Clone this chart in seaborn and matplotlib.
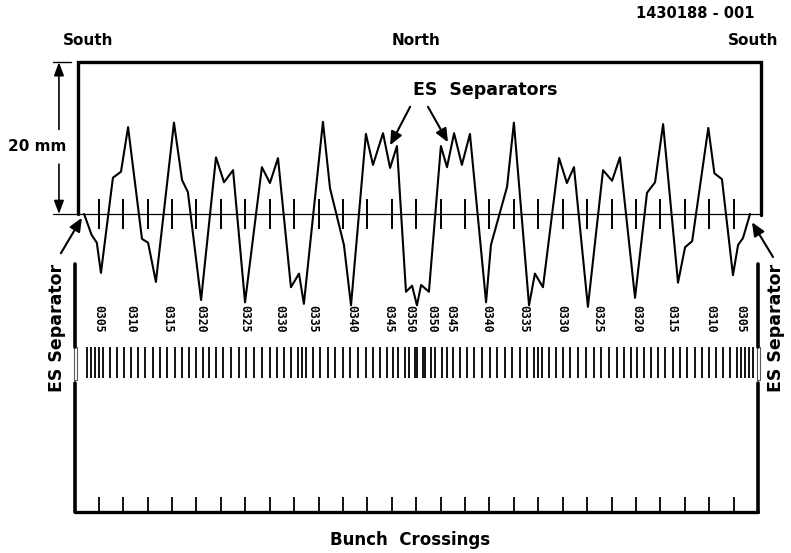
import numpy as np
import pandas as pd
import matplotlib
matplotlib.use("Agg")
import matplotlib.pyplot as plt
import seaborn as sns

# x: position along the ring in crossing spacings, y: orbit displacement in mm
orbit_pos = [0.25, 0.56, 0.77, 0.94, 1.43, 1.76, 2.05, 2.62, 2.87, 3.19, 3.93, 4.26, 4.50,
             5.04, 5.65, 5.98, 6.35, 6.84, 7.53, 7.86, 8.19, 8.72, 9.05, 9.25, 10.03, 10.32,
             10.89, 11.18, 11.79, 12.08, 12.49, 12.78, 13.06, 13.43, 13.68, 13.88, 14.05,
             14.37, 14.86, 15.11, 15.40, 15.72, 16.05, 16.71, 16.91, 17.57, 17.85, 18.47,
             18.71, 19.04, 19.70, 20.02, 20.31, 20.88, 21.50, 21.87, 22.19, 22.81, 23.30,
             23.63, 23.96, 24.57, 24.86, 25.15, 25.81, 26.06, 26.37, 26.82, 27.03, 27.23, 27.52]
orbit_mm = [0, -2.8, -3.8, -7.8, 4.8, 5.6, 11.5, -3.3, -3.8, -9.0, 12.1, 4.5, 2.9,
            -11.4, 7.5, 4.2, 5.8, -11.7, 6.2, 4.1, 7.4, -9.7, -7.9, -11.9, 12.2, 3.4,
            -4.1, -12.1, 10.6, 6.5, 10.7, 6.1, 9.0, -10.3, -9.5, -12.1, -9.4,
            -10.3, 9.0, 6.2, 10.7, 6.5, 10.6, -11.7, -4.1, 3.6, 12.1, -12.1,
            -7.9, -9.7, 7.4, 4.1, 6.2, -12.3, 5.8, 4.4, 7.5, -11.1, 2.8,
            4.2, 11.9, -9.1, -4.4, -3.6, 11.4, 5.4, 4.6, -8.1, -4.1, -3.2, 0]

crossings = [0.85, 1.85, 2.85, 3.85, 4.85, 5.85, 6.85, 7.85, 8.85, 9.85, 10.85, 11.85, 12.85,
             13.85, 14.85, 15.85, 16.85, 17.85, 18.85, 19.85, 20.85, 21.85, 22.85, 23.85,
             24.85, 25.85, 26.85]

quad_labels = ["0305", "0310", "0315", "0320", "0325", "0330", "0335", "0340", "0345", "0350",
               "0350", "0345", "0340", "0335", "0330", "0325", "0320", "0315", "0310", "0305"]
quad_pos = [0.86, 2.17, 3.69, 5.04, 6.84, 8.27, 9.62, 11.22, 12.74, 13.60,
            14.50, 15.27, 16.75, 18.26, 19.82, 21.29, 22.89, 24.32, 25.92, 27.15]

bunch_pos = [0.37, 0.53, 0.70, 0.86, 1.02, 1.31, 1.60, 1.88, 2.17, 2.46, 2.74, 3.07, 3.36, 3.64,
             3.97, 4.26, 4.54, 4.83, 5.12, 5.36, 5.65, 5.94, 6.27, 6.59, 6.88, 7.21, 7.53, 7.86,
             8.15, 8.44, 8.72, 9.01, 9.17, 9.34, 9.62, 9.91, 10.24, 10.52, 10.85, 11.14, 11.47,
             11.79, 12.08, 12.37, 12.65, 12.90, 13.10, 13.39, 13.55, 13.80, 13.88,
             14.12, 14.20, 14.45, 14.61, 14.90, 15.10, 15.35, 15.63, 15.92, 16.21, 16.53, 16.86,
             17.15, 17.48, 17.76, 18.09, 18.38, 18.66, 18.83, 18.99, 19.28, 19.56, 19.85, 20.14,
             20.47, 20.79, 21.12, 21.41, 21.73, 22.06, 22.35, 22.64, 22.88, 23.17, 23.46, 23.74,
             24.03, 24.36, 24.64, 24.93, 25.26, 25.54, 25.83, 26.12, 26.40, 26.69, 26.98, 27.14,
             27.30, 27.47, 27.63]

sns.set_style("white")
plt.rcParams['font.family'] = ['DejaVu Sans']
plt.rcParams['text.color'] = 'black'

fig = plt.figure(figsize=(7.91, 5.53), dpi=100)
ax = fig.add_axes([0, 0, 1, 1])
ax.set_xlim(-3.194, 29.197)
ax.set_ylim(-44.9, 28.34)
ax.axis("off")

k = "black"
# upper frame (South - North - South) and zero orbit line
ax.plot([0, 0, 27.97, 27.97], [0, 20.1, 20.1, -0.2], color=k, lw=2.4, solid_joinstyle="miter")
ax.plot([-1.02, 27.97], [0, 0], color=k, lw=0.9)
ax.vlines(crossings, -2.0, 2.0, color=k, lw=1.4)

# orbit
df = pd.DataFrame({"pos": orbit_pos, "mm": orbit_mm})
sns.lineplot(data=df, x="pos", y="mm", sort=False, color=k, lw=1.5, ax=ax)

# 20 mm dimension
ax.plot([-1.02, -0.29], [20.1, 20.1], color=k, lw=1.0)
arrow = dict(arrowstyle="-|>,head_length=0.8,head_width=0.3", color=k, lw=1.2, shrinkA=0, shrinkB=0)
ax.annotate("", xy=(-0.78, 20.1), xytext=(-0.78, 11.2), arrowprops=arrow)
ax.annotate("", xy=(-0.78, 0), xytext=(-0.78, 6.6), arrowprops=arrow)
ax.text(-1.68, 9.0, "20 mm", ha="center", va="center", fontsize=11, fontweight="bold")

# titles
ax.text(0.43, 22.0, "South", ha="center", va="bottom", fontsize=11, fontweight="bold")
ax.text(13.84, 22.0, "North", ha="center", va="bottom", fontsize=11, fontweight="bold")
ax.text(27.64, 22.0, "South", ha="center", va="bottom", fontsize=11, fontweight="bold")
ax.text(25.27, 26.5, "1430188 - 001", ha="center", va="center", fontsize=10.5, fontweight="bold")

# ES separators (central)
ax.text(16.67, 16.4, "ES  Separators", ha="center", va="center", fontsize=12.5, fontweight="bold")
sep_arrow = dict(arrowstyle="-|>,head_length=0.8,head_width=0.35", color=k, lw=1.5, shrinkA=0, shrinkB=0)
ax.annotate("", xy=(12.78, 9.1), xytext=(13.60, 14.2), arrowprops=sep_arrow)
ax.annotate("", xy=(15.15, 9.5), xytext=(14.33, 14.2), arrowprops=sep_arrow)

# ES separators at the south ends
ax.annotate("", xy=(0.16, -0.5), xytext=(-0.70, -5.2), arrowprops=sep_arrow)
ax.annotate("", xy=(27.60, -1.1), xytext=(28.46, -5.7), arrowprops=sep_arrow)
ax.text(-0.86, -15.1, "ES Separator", rotation=90, ha="center", va="center", fontsize=12.5, fontweight="bold")
ax.text(28.58, -15.1, "ES Separator", rotation=90, ha="center", va="center", fontsize=12.5, fontweight="bold")

# quadrupole labels
for p, lab in zip(quad_pos, quad_labels):
    ax.text(p, -12.0, lab, rotation=270, ha="center", va="top", fontsize=8.3,
            family="DejaVu Sans Mono", fontweight="bold")

# bunch positions band
ax.vlines(bunch_pos, -21.7, -17.6, color=k, lw=1.3)

# lower frame with separator boxes
for xs in (-0.12, 27.85):
    ax.plot([xs, xs], [-6.6, -17.6], color=k, lw=2.6)
    ax.plot([xs, xs], [-22.4, -39.5], color=k, lw=2.6)
    ax.add_patch(plt.Rectangle((xs - 0.06, -22.0), 0.12, 4.4, fill=False, lw=0.8, ec="0.35"))
ax.plot([-0.12, 27.85], [-39.5, -39.5], color=k, lw=2.4)
ax.vlines(crossings, -39.5, -37.5, color=k, lw=1.3)
ax.text(13.6, -43.2, "Bunch  Crossings", ha="center", va="center", fontsize=12, fontweight="bold")

fig.savefig("out.png", dpi=100)
